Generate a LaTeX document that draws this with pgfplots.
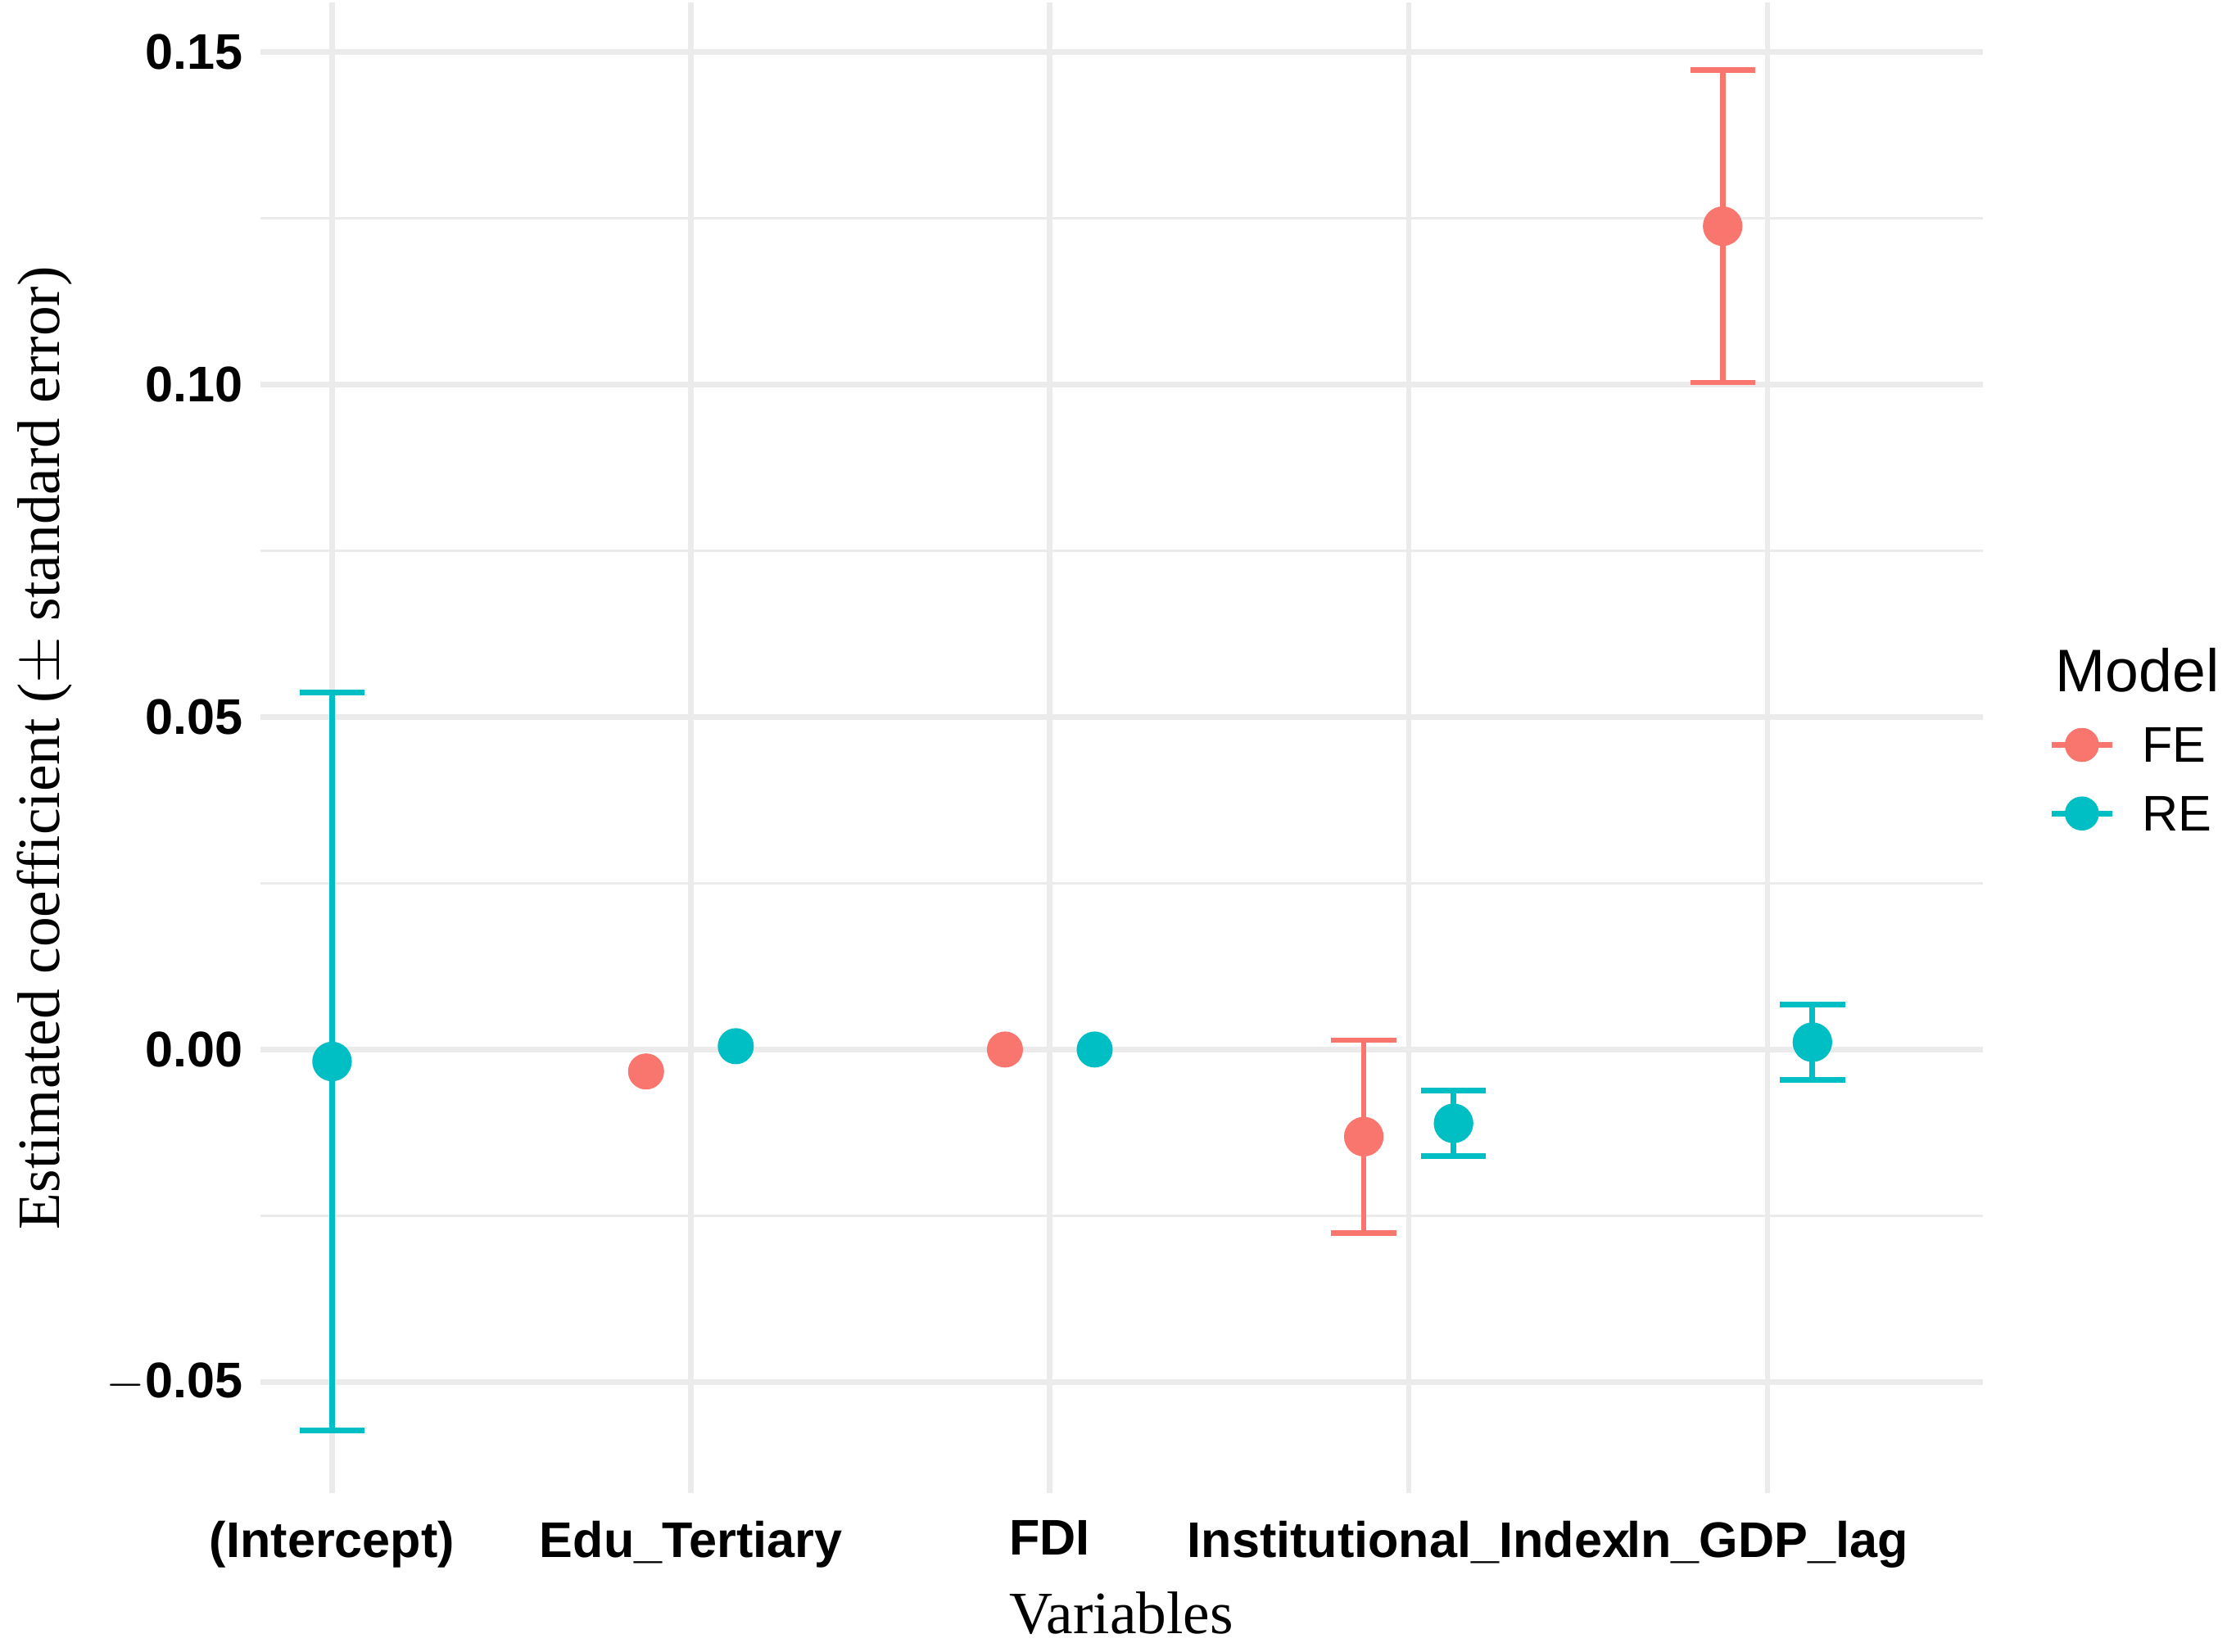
\documentclass[border=0pt]{standalone}
\usepackage{fontspec}
\setmainfont{Liberation Serif}
\setsansfont{Liberation Sans}
\usepackage{pgfplots}
\pgfplotsset{compat=1.18}
\definecolor{fe}{HTML}{F8766D}
\definecolor{re}{HTML}{00BFC4}
\definecolor{gridc}{HTML}{EBEBEB}
\begin{document}
\begin{tikzpicture}
\begin{axis}[
  scale only axis, width=12.09cm, height=10.46cm,
  xmin=0.8, xmax=5.6, ymin=-0.0667, ymax=0.1574,
  axis line style={draw=none}, tick style={draw=none},
  xtick={1,2,3,4,5},
  xticklabels={(Intercept),Edu\_Tertiary,FDI,Institutional\_Index,ln\_GDP\_lag},
  ytick={-0.05,0,0.05,0.10,0.15},
  yticklabels={$-$0.05,0.00,0.05,0.10,0.15},
  minor ytick={-0.025,0.025,0.075,0.125},
  grid=both,
  major grid style={gridc, line width=1.1pt},
  minor grid style={gridc, line width=0.6pt},
  ticklabel style={font=\sffamily\bfseries\normalsize, text=black},
  xticklabel style={yshift=-2pt},
  xlabel={\large Variables}, ylabel={\large Estimated coefficient ($\pm$ standard error)},
  xlabel style={yshift=2pt},
  clip=false,
]
\addplot[fe, line width=1.1pt, only marks, mark=*, mark size=3.4pt, forget plot,
  error bars/.cd, y dir=both, y explicit, error bar style={line width=1.1pt, fe},
  error mark options={rotate=90, mark size=6.5pt, line width=1.1pt, fe}]
  coordinates {
  (3.875,-0.0131) +- (0,0.0145)
  (4.875,0.1238) +- (0,0.0235)
  };
\addplot[fe, only marks, mark=*, mark size=3.4pt, forget plot]
  coordinates {(1.875,-0.0033) (2.875,0.0)};
\addplot[re, line width=1.1pt, only marks, mark=*, mark size=3.4pt, forget plot,
  error bars/.cd, y dir=both, y explicit, error bar style={line width=1.1pt, re},
  error mark options={rotate=90, mark size=6.5pt, line width=1.1pt, re}]
  coordinates {
  (1,-0.0018) +- (0,0.0555)
  (4.125,-0.0111) +- (0,0.0049)
  (5.125,0.0011) +- (0,0.0057)
  };
\addplot[re, only marks, mark=*, mark size=3.4pt, forget plot]
  coordinates {(2.125,0.0005) (3.125,0.0)};
\node[anchor=west, font=\sffamily\large] at (rel axis cs:1.032,0.552) {Model};
\draw[fe, line width=1.1pt] (rel axis cs:1.04,0.502) -- (rel axis cs:1.075,0.502);
\fill[fe] (rel axis cs:1.0575,0.502) circle (3.4pt);
\node[anchor=west, font=\sffamily\normalsize] at (rel axis cs:1.082,0.502) {FE};
\draw[re, line width=1.1pt] (rel axis cs:1.04,0.456) -- (rel axis cs:1.075,0.456);
\fill[re] (rel axis cs:1.0575,0.456) circle (3.4pt);
\node[anchor=west, font=\sffamily\normalsize] at (rel axis cs:1.082,0.456) {RE};
\end{axis}
\end{tikzpicture}
\end{document}
